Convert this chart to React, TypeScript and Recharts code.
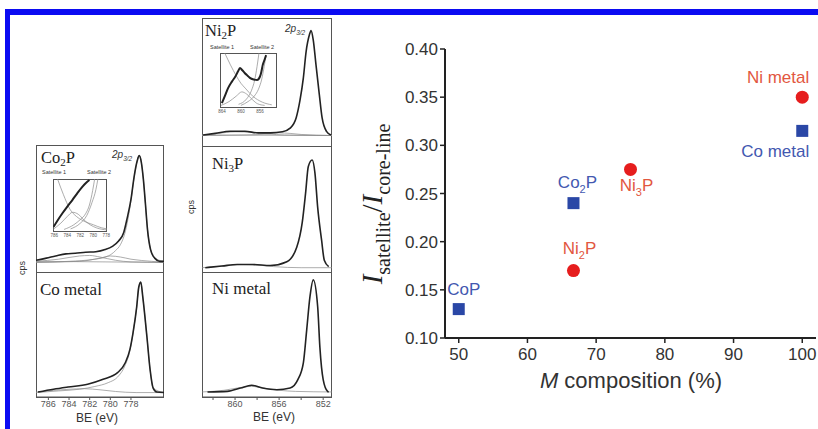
import React from 'react';
import { LineChart, Line, XAxis, YAxis, ScatterChart, Scatter } from 'recharts';

// ---------- right panel: satellite / core-line intensity ratio ----------
const coNames = ['CoP', 'Co2P', 'Co metal'];
const coComposition = [50, 66.7, 100];
const coRatio = [0.13, 0.24, 0.315];

const niNames = ['Ni2P', 'Ni3P', 'Ni metal'];
const niComposition = [66.7, 75, 100];
const niRatio = [0.17, 0.275, 0.35];

const xTicks = [50, 60, 70, 80, 90, 100];
const yTicks = [0.1, 0.15, 0.2, 0.25, 0.3, 0.35, 0.4];

// ---------- left panels: 2p3/2 spectra, [BE (eV), intensity (% of peak)] ----------
const co2pData = [
  [787.2, 2], [786.2, 4], [785.3, 6], [784.3, 8], [783.4, 8.5], [782.4, 9.5], [781.4, 10], [780.5, 12],
  [779.8, 15], [779.2, 20], [778.7, 28], [778.4, 40], [778.0, 59], [777.7, 80], [777.4, 95], [777.2, 100],
  [777.0, 94], [776.8, 78], [776.6, 55], [776.4, 31], [776.1, 12], [775.7, 4], [775.2, 1], [774.8, 1],
];
const co2pMain = [
  [787.2, 0], [784, 1], [781.5, 3], [780.2, 6], [779.5, 11], [779, 17], [778.6, 27], [778.3, 40], [778.0, 58],
  [777.7, 79], [777.4, 95], [777.2, 100], [777.0, 94], [776.8, 78], [776.6, 55], [776.4, 31], [776.1, 12],
  [775.7, 4], [774.8, 1],
];
const co2pSat1 = [[787.2, 1], [785, 3], [783, 6], [782, 6.5], [781, 5], [779.5, 2], [778, 0.5], [774.8, 0]];
const co2pSat2 = [[787.2, 0], [783, 1], [781, 4], [780, 6], [779, 5], [778, 3], [776, 1], [774.8, 0]];
const co2pBackground = [[787.2, 1], [774.8, 0]];

const co2pInsetData = [
  [786.1, 8], [785.4, 22], [784.7, 35], [784.0, 47], [783.2, 60], [782.5, 72], [781.7, 85], [781.1, 93], [780.6, 98],
];
const co2pInsetSat1 = [[785.5, 100], [784.6, 70], [783.6, 42], [782.6, 28], [781.6, 20], [780, 12], [778.7, 6], [777.9, 4]];
const co2pInsetHump = [[786.2, 3], [785, 15], [784, 28], [783.2, 36], [782.3, 32], [781.5, 22], [780.5, 12], [779.5, 6], [777.9, 2]];
const co2pInsetSat2a = [[784.5, 3], [783, 12], [782, 22], [781.2, 33], [780.6, 50], [780.1, 78], [779.8, 100]];
const co2pInsetSat2b = [[783.5, 4], [782, 15], [781, 30], [780.2, 55], [779.6, 80], [779.3, 100]];

const coMetalData = [
  [787.0, 0.5], [785.5, 3], [784.1, 5], [782.2, 7.5], [780.7, 12], [779.3, 18], [778.55, 27], [778.1, 39],
  [777.8, 54], [777.45, 77], [777.25, 95], [777.05, 100], [776.85, 86], [776.45, 50], [776.15, 21],
  [775.85, 4], [775.5, 0.5], [774.8, 0],
];
const coMetalMain = [
  [787.2, 0], [785, 1.5], [783, 3], [781.5, 5.5], [780.2, 9], [779.3, 14], [778.6, 24], [778.1, 38],
  [777.8, 54], [777.45, 77], [777.25, 95], [777.05, 100], [776.85, 86], [776.45, 50], [776.15, 21], [775.85, 4], [774.8, 0],
];
const coMetalSat = [[787.2, 0.5], [785.5, 2], [784, 3], [782.5, 3.5], [781, 2.5], [779.5, 1], [777.5, 0], [774.8, 0]];

const ni2pData = [
  [862.9, 0.5], [861.8, 2], [860.45, 4], [859.1, 4], [857.9, 2.5], [856.8, 2.5], [855.7, 3.5], [855.0, 7],
  [854.45, 17], [854.1, 34], [853.8, 55], [853.55, 80], [853.25, 96], [853.1, 100], [852.9, 91], [852.65, 67],
  [852.35, 39], [852.1, 17], [851.7, 4], [851.3, 0.5],
];
const ni2pSat1 = [[863, 0], [861.5, 2], [860, 3.5], [858.5, 3], [857, 1.5], [855.5, 0.5], [851.2, 0]];
const ni2pSat2 = [[863, 0], [859, 0.5], [857, 1.5], [856, 2.5], [855, 2], [854, 1], [851.2, 0]];
const ni2pBackground = [[863, 0.5], [851.2, 0]];

const ni2pInsetData = [
  [864.0, 7], [863.3, 22], [862.7, 35], [861.9, 47], [861.2, 56], [860.6, 66], [860.2, 72], [859.7, 68],
  [859.2, 63], [858.6, 58], [858.1, 54], [857.3, 51], [856.6, 50], [856.0, 56], [855.7, 65], [855.4, 78],
  [855.0, 88], [854.7, 96],
];
const ni2pInsetSat1 = [[863.4, 100], [862.2, 78], [861, 58], [860, 44], [859.1, 35], [857.5, 20], [855.5, 9], [853.5, 4]];
const ni2pInsetHump = [[864.2, 3], [862.5, 10], [861, 20], [859.8, 28], [858.8, 24], [857.5, 13], [856.5, 6], [855, 3]];
const ni2pInsetSat2a = [[860, 3], [858.5, 10], [857.2, 20], [856.3, 33], [855.6, 52], [855.1, 75], [854.7, 96]];
const ni2pInsetSat2b = [[856.2, 100], [856.6, 75], [857.1, 50], [857.8, 30], [858.8, 15], [860.5, 5]];

const ni3pData = [
  [862.7, 0], [861.2, 1.5], [859.8, 3], [858.4, 3], [856.8, 2], [855.3, 5.5], [854.4, 19], [853.9, 42],
  [853.6, 69], [853.35, 94], [853.0, 100], [852.75, 88], [852.5, 56], [852.15, 26], [851.9, 7], [851.5, 1],
];
const ni3pSat = [[863, 0], [861, 1.5], [859.5, 3], [858, 2.5], [856.5, 1], [854, 0], [851.2, 0]];

const niMetalData = [
  [862.5, 0], [860.7, 0.5], [859.5, 3.5], [858.5, 6], [857.5, 3.5], [856.2, 2], [855.0, 3.5], [854.3, 11],
  [853.8, 26], [853.5, 55], [853.2, 85], [852.9, 100], [852.5, 76], [852.3, 40], [852.0, 11], [851.6, 0.5], [851.5, 0],
];
const niMetalSat = [[863, 0], [861, 1.5], [859.5, 4], [858.5, 5], [857.5, 3.5], [856, 1.5], [854.5, 0.5], [851.2, 0]];

const coTicks = [786, 784, 782, 780, 778];
const niTicks = [862, 860, 858, 856, 854, 852];
const niInsetTicks = [864, 860, 856];

const SANS = '"Liberation Sans", Arial, sans-serif';
const SERIF = '"Liberation Serif", "Times New Roman", serif';
const CO_BLUE = '#2a47a6';
const NI_RED = '#e61d1d';

type Curve = { pts: number[][]; fit?: boolean };
const rows = (pts: number[][]) => pts.map(([be, v]) => ({ be, v }));

interface SpectrumProps {
  left: number;
  top: number;
  width: number;
  height: number;
  be: [number, number];
  y: [number, number];
  curves: Curve[];
  ticks?: number[];
  showTick?: (v: number) => boolean;
  inset?: boolean;
}

const Spectrum: React.FC<SpectrumProps> = ({ left, top, width, height, be, y, curves, ticks, showTick, inset }) => {
  const axisH = ticks ? (inset ? 9 : 16) : 0;
  // insets get side room so the end tick labels are not cut off
  const pad = inset ? 8 : 0;
  return (
    <div style={{ position: 'absolute', left: left - pad, top, width: width + 2 * pad, height: height + axisH }}>
      <div
        style={{
          position: 'absolute', left: pad, top: 0, width, height: height + 1, boxSizing: 'border-box',
          border: '1px solid #555', background: inset ? '#fff' : 'transparent',
        }}
      />
      <LineChart width={width + 2 * pad} height={height + axisH} margin={{ top: 0, right: pad, bottom: 0, left: pad }}>
        <XAxis
          dataKey="be"
          type="number"
          domain={be}
          reversed
          allowDataOverflow
          hide={!ticks}
          ticks={ticks}
          interval={0}
          height={axisH}
          tickFormatter={(v: number) => (showTick && !showTick(v) ? '' : String(v))}
          tick={{ fontSize: inset ? 4.5 : 9, fill: '#555', fontFamily: SANS }}
          tickSize={inset ? 0 : 3}
          tickMargin={inset ? 3 : 1}
          axisLine={inset ? false : { stroke: '#555' }}
          tickLine={inset ? false : { stroke: '#555' }}
        />
        <YAxis type="number" domain={y} hide allowDataOverflow />
        {curves.map((c, i) => (
          <Line
            key={i}
            data={rows(c.pts)}
            dataKey="v"
            type="monotone"
            dot={false}
            activeDot={false}
            stroke={c.fit ? '#8a8a8a' : '#222'}
            strokeWidth={c.fit ? 0.7 : inset ? 2 : 1.6}
            isAnimationActive={false}
          />
        ))}
      </LineChart>
    </div>
  );
};

const labelSpot: Record<string, { dx: number; dy: number; anchor: 'start' | 'middle' | 'end' }> = {
  CoP: { dx: 5, dy: -14, anchor: 'middle' },
  Co2P: { dx: 4, dy: -15, anchor: 'middle' },
  'Co metal': { dx: 7, dy: 26, anchor: 'end' },
  Ni2P: { dx: 6, dy: -17, anchor: 'middle' },
  Ni3P: { dx: 6, dy: 22, anchor: 'middle' },
  'Ni metal': { dx: 7, dy: -14, anchor: 'end' },
};

const PointLabel = ({ x, y, name, color }: { x: number; y: number; name: string; color: string }) => {
  const s = labelSpot[name];
  const parts = name.split(/(\d)/).filter((p) => p !== '');
  return (
    <text x={x + s.dx} y={y + s.dy} textAnchor={s.anchor} fill={color} fontSize={17} fontFamily={SANS}>
      {parts.map((p, i) =>
        /\d/.test(p) ? (
          <tspan key={i} fontSize={11} dy={5}>{p}</tspan>
        ) : (
          <tspan key={i} dy={i > 0 ? -5 : 0}>{p}</tspan>
        )
      )}
    </text>
  );
};

const coShape = (p: any) => (
  <g>
    <rect x={p.cx - 6} y={p.cy - 6} width={12} height={12} fill={CO_BLUE} />
    <PointLabel x={p.cx} y={p.cy} name={p.payload.name} color="#4358b0" />
  </g>
);

const niShape = (p: any) => (
  <g>
    <circle cx={p.cx} cy={p.cy} r={6.5} fill={NI_RED} />
    <PointLabel x={p.cx} y={p.cy} name={p.payload.name} color="#e2573f" />
  </g>
);

const coPoints = coNames.map((name, i) => ({ name, x: coComposition[i], y: coRatio[i] }));
const niPoints = niNames.map((name, i) => ({ name, x: niComposition[i], y: niRatio[i] }));

const axisStroke = { stroke: '#222', strokeWidth: 2 };

export default function App() {
  return (
    <div
      style={{
        position: 'absolute', left: 0, top: 0, width: 818, height: 429, background: '#fff',
        overflow: 'hidden', fontFamily: SANS,
      }}
    >
      <div style={{ position: 'absolute', left: 5, top: 9, width: 813, height: 6, background: '#0b0bf2' }} />
      <div style={{ position: 'absolute', left: 5, top: 9, width: 5, height: 420, background: '#0b0bf2' }} />

      {/* Co column */}
      <Spectrum
        left={36} top={145} width={128} height={127} be={[774.8, 787.2]} y={[-9, 110]}
        curves={[
          { pts: co2pBackground, fit: true }, { pts: co2pSat1, fit: true }, { pts: co2pSat2, fit: true },
          { pts: co2pMain, fit: true }, { pts: co2pData },
        ]}
      />
      <Spectrum
        left={53} top={179} width={54} height={52} be={[777.9, 786.2]} y={[0, 100]} inset ticks={coTicks}
        curves={[
          { pts: co2pInsetSat1, fit: true }, { pts: co2pInsetHump, fit: true }, { pts: co2pInsetSat2a, fit: true },
          { pts: co2pInsetSat2b, fit: true }, { pts: co2pInsetData },
        ]}
      />
      <Spectrum
        left={36} top={272} width={128} height={125} be={[774.8, 787.2]} y={[-4, 109]} ticks={coTicks}
        curves={[{ pts: coMetalSat, fit: true }, { pts: coMetalMain, fit: true }, { pts: coMetalData }]}
      />

      {/* Ni column */}
      <Spectrum
        left={202} top={18} width={130} height={128} be={[851.2, 863]} y={[-10, 112]}
        curves={[
          { pts: ni2pBackground, fit: true }, { pts: ni2pSat1, fit: true }, { pts: ni2pSat2, fit: true },
          { pts: ni2pData },
        ]}
      />
      <Spectrum
        left={220} top={53} width={57} height={54} be={[852.4, 864.4]} y={[0, 100]} inset ticks={niInsetTicks}
        curves={[
          { pts: ni2pInsetSat1, fit: true }, { pts: ni2pInsetHump, fit: true }, { pts: ni2pInsetSat2a, fit: true },
          { pts: ni2pInsetSat2b, fit: true }, { pts: ni2pInsetData },
        ]}
      />
      <Spectrum
        left={202} top={146} width={130} height={126} be={[851.2, 863]} y={[-4, 113]}
        curves={[{ pts: ni3pSat, fit: true }, { pts: ni3pData }]}
      />
      <Spectrum
        left={202} top={272} width={130} height={125} be={[851.2, 863]} y={[-4.5, 107]} ticks={niTicks}
        showTick={(v) => v % 4 === 0}
        curves={[{ pts: niMetalSat, fit: true }, { pts: niMetalData }]}
      />

      {/* ratio plot */}
      <div style={{ position: 'absolute', left: 340, top: 30 }}>
        <ScatterChart width={478} height={399} margin={{ top: 19, right: 2, bottom: 31, left: 0 }}>
          <XAxis
            dataKey="x" type="number" domain={[48, 102]} ticks={xTicks} interval={0} height={60}
            axisLine={axisStroke} tickLine={{ stroke: '#222', strokeWidth: 1.5 }} tickSize={5} tickMargin={5}
            tick={{ fontSize: 17, fill: '#333', fontFamily: SANS }}
          />
          <YAxis
            dataKey="y" type="number" domain={[0.1, 0.4]} ticks={yTicks} interval={0} width={105}
            axisLine={axisStroke} tickLine={{ stroke: '#222', strokeWidth: 1.5 }} tickSize={5} tickMargin={2}
            tickFormatter={(v: number) => v.toFixed(2)}
            tick={{ fontSize: 17, fill: '#333', fontFamily: SANS }}
          />
          <XAxis xAxisId="top" orientation="top" type="number" domain={[48, 102]} height={0} tick={false} tickLine={false} axisLine={axisStroke} />
          <YAxis yAxisId="right" orientation="right" type="number" domain={[0.1, 0.4]} width={0} tick={false} tickLine={false} axisLine={axisStroke} />
          <Scatter data={coPoints} shape={coShape} isAnimationActive={false} />
          <Scatter data={niPoints} shape={niShape} isAnimationActive={false} />
        </ScatterChart>
      </div>

      {/* annotations */}
      <svg width={818} height={429} style={{ position: 'absolute', left: 0, top: 0, pointerEvents: 'none' }}>
        <g fontFamily={SERIF} fill="#222" fontSize={16.5}>
          <text x={41} y={163}>Co<tspan fontSize={11} dy={3}>2</tspan><tspan dy={-3}>P</tspan></text>
          <text x={40} y={294.5} fontSize={17}>Co metal</text>
          <text x={205} y={36}>Ni<tspan fontSize={11} dy={3}>2</tspan><tspan dy={-3}>P</tspan></text>
          <text x={212} y={169}>Ni<tspan fontSize={11} dy={3}>3</tspan><tspan dy={-3}>P</tspan></text>
          <text x={212} y={294} fontSize={17}>Ni metal</text>
        </g>
        <g fontFamily={SANS} fill="#333">
          <text x={112} y={158} fontSize={10} fontStyle="italic">2p<tspan fontSize={6.5} dy={2.5}>3/2</tspan></text>
          <text x={285} y={32} fontSize={10} fontStyle="italic">2p<tspan fontSize={6.5} dy={2.5}>3/2</tspan></text>
          <text x={42} y={173.5} fontSize={5.5}>Satellite 1</text>
          <text x={87} y={173.5} fontSize={5.5}>Satellite 2</text>
          <text x={210} y={49} fontSize={5.5}>Satellite 1</text>
          <text x={250} y={49} fontSize={5.5}>Satellite 2</text>
          <text transform="translate(25,268) rotate(-90)" textAnchor="middle" fontSize={9}>cps</text>
          <text transform="translate(194,207) rotate(-90)" textAnchor="middle" fontSize={9}>cps</text>
          <text x={97} y={422} textAnchor="middle" fontSize={12}>BE (eV)</text>
          <text x={274} y={421} textAnchor="middle" fontSize={12}>BE (eV)</text>
        </g>
        <text x={631} y={388} textAnchor="middle" fontSize={22} fontFamily={SANS} fill="#333">
          <tspan fontStyle="italic">M</tspan> composition (%)
        </text>
        <text transform="translate(382,204) rotate(-90)" textAnchor="middle" fontFamily={SERIF} fill="#222" fontSize={29}>
          <tspan fontStyle="italic">I</tspan>
          <tspan fontSize={20} dy={8}>satellite</tspan>
          <tspan dy={-8}>/</tspan>
          <tspan fontStyle="italic">I</tspan>
          <tspan fontSize={20} dy={8}>core-line</tspan>
        </text>
      </svg>
    </div>
  );
}
